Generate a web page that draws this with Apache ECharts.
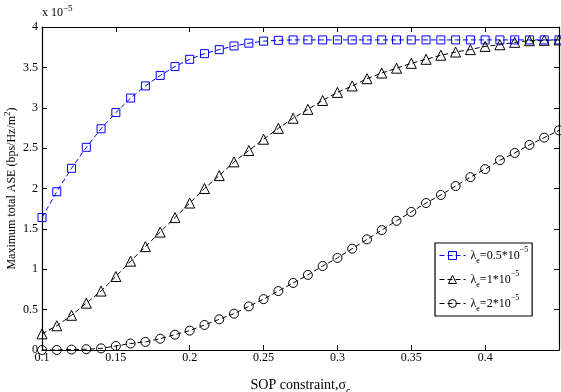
<!DOCTYPE html>
<html>
<head>
<meta charset="utf-8">
<script src="https://cdn.jsdelivr.net/npm/echarts@6/dist/echarts.min.js"></script>
<style>
  html, body { margin: 0; padding: 0; background: #fff; }
  #main { width: 561px; height: 392px; }
</style>
</head>
<body>
<div id="main"></div>
<script>
// SOP constraint values (x axis)
const sop = [0.10, 0.11, 0.12, 0.13, 0.14, 0.15, 0.16, 0.17, 0.18, 0.19,
  0.20, 0.21, 0.22, 0.23, 0.24, 0.25, 0.26, 0.27, 0.28, 0.29,
  0.30, 0.31, 0.32, 0.33, 0.34, 0.35, 0.36, 0.37, 0.38, 0.39,
  0.40, 0.41, 0.42, 0.43, 0.44, 0.45];

// ASE, in units of 1e-5
const aseLow = [1.64, 1.96, 2.25, 2.51, 2.74, 2.94, 3.12, 3.27, 3.40, 3.51,
  3.60, 3.67, 3.72, 3.765, 3.80, 3.825, 3.835, 3.84, 3.84, 3.84,
  3.84, 3.84, 3.84, 3.84, 3.84, 3.84, 3.84, 3.84, 3.84, 3.84,
  3.84, 3.84, 3.84, 3.84, 3.84, 3.84];
const aseMid = [0.20, 0.30, 0.43, 0.58, 0.73, 0.91, 1.10, 1.28, 1.46, 1.64,
  1.82, 2.00, 2.16, 2.33, 2.47, 2.61, 2.745, 2.87, 2.98, 3.09,
  3.19, 3.27, 3.36, 3.43, 3.49, 3.55, 3.60, 3.65, 3.69, 3.72,
  3.76, 3.78, 3.81, 3.83, 3.835, 3.84];
const aseHigh = [0.00, 0.00, 0.005, 0.01, 0.02, 0.05, 0.08, 0.10, 0.14, 0.19,
  0.24, 0.31, 0.38, 0.45, 0.54, 0.63, 0.73, 0.83, 0.93, 1.04,
  1.14, 1.255, 1.37, 1.485, 1.60, 1.71, 1.82, 1.92, 2.03, 2.14,
  2.24, 2.35, 2.44, 2.54, 2.63, 2.72];

const xTicks = [0.1, 0.15, 0.2, 0.25, 0.3, 0.35, 0.4];
const legendNames = ['low', 'mid', 'high'];
const legendLabels = {
  low: '{t|λ}{sub|e}{t|=0.5*10}{sup|−5}',
  mid: '{t|λ}{sub|e}{t|=1*10}{sup|−5}',
  high: '{t|λ}{sub|e}{t|=2*10}{sup|−5}'
};

const serif = '"Liberation Serif", "DejaVu Serif", serif';
const chart = echarts.init(document.getElementById('main'));

function pairs(ys) {
  return sop.map((x, i) => [x, ys[i]]);
}

function lineSeries(name, data, color, symbol, size) {
  return {
    name: name,
    type: 'line',
    data: pairs(data),
    symbol: symbol,
    symbolSize: size,
    showSymbol: true,
    clip: false,
    lineStyle: { color: color, width: 1, type: [5, 3] },
    itemStyle: { color: 'rgba(255,255,255,0)', borderColor: color, borderWidth: 1 },
    emphasis: { disabled: true },
    animation: false
  };
}

const baseAxisX = {
  type: 'value',
  min: 0.1,
  max: 0.45,
  interval: 0.05,
  axisLine: { show: true, onZero: false, lineStyle: { color: '#000', width: 1.2 } },
  axisTick: { show: true, inside: true, length: 5, lineStyle: { color: '#000' } },
  splitLine: { show: false }
};
const baseAxisY = {
  type: 'value',
  min: 0,
  max: 4,
  interval: 0.5,
  axisLine: { show: true, onZero: false, lineStyle: { color: '#000', width: 1.2 } },
  axisTick: { show: true, inside: true, length: 5, lineStyle: { color: '#000' } },
  splitLine: { show: false }
};

const option = {
  backgroundColor: '#fff',
  grid: { left: 42, right: 2, top: 27, bottom: 42, containLabel: false, outerBoundsMode: 'none' },
  xAxis: [
    Object.assign({}, baseAxisX, {
      position: 'bottom',
      axisLabel: {
        color: '#000', fontFamily: serif, fontSize: 12, margin: 2,
        formatter: v => (xTicks.some(t => Math.abs(t - v) < 1e-9) ? String(+v.toFixed(2)) : '')
      },
      name: '{t|SOP constraint,σ}{sub|c}',
      nameLocation: 'middle',
      nameGap: 24,
      nameTextStyle: {
        color: '#000', fontFamily: serif,
        rich: {
          t: { fontFamily: serif, fontSize: 14, color: '#000', lineHeight: 22 },
          sub: { fontFamily: serif, fontSize: 10, color: '#000', verticalAlign: 'bottom', lineHeight: 22 }
        }
      }
    }),
    Object.assign({}, baseAxisX, {
      position: 'top',
      axisLabel: { show: false }
    })
  ],
  yAxis: [
    Object.assign({}, baseAxisY, {
      position: 'left',
      axisLabel: {
        color: '#000', fontFamily: serif, fontSize: 12, margin: 4,
        formatter: v => String(v)
      },
      name: '{t|Maximum total ASE (bps/Hz/m}{sup|2}{t|)}',
      nameLocation: 'middle',
      nameRotate: 90,
      nameGap: 21,
      nameMoveOverlap: false,
      nameTextStyle: {
        color: '#000', fontFamily: serif,
        rich: {
          t: { fontFamily: serif, fontSize: 12, color: '#000', lineHeight: 18 },
          sup: { fontFamily: serif, fontSize: 9, color: '#000', verticalAlign: 'top', lineHeight: 18 }
        }
      }
    }),
    Object.assign({}, baseAxisY, {
      position: 'right',
      axisLabel: { show: false }
    })
  ],
  legend: {
    data: legendNames,
    orient: 'vertical',
    left: 435,
    top: 243,
    padding: [3, 4, 3, 4],
    itemGap: 5,
    itemWidth: 26,
    itemHeight: 10,
    backgroundColor: '#fff',
    borderColor: '#000',
    borderWidth: 1.2,
    borderRadius: 0,
    selectedMode: false,
    lineStyle: { width: 1 },
    itemStyle: { borderWidth: 1 },
    formatter: n => legendLabels[n],
    textStyle: {
      color: '#000', fontFamily: serif, fontSize: 12,
      rich: {
        t: { fontFamily: serif, fontSize: 12, color: '#000', lineHeight: 19 },
        sub: { fontFamily: serif, fontSize: 8, color: '#000', verticalAlign: 'bottom', lineHeight: 19 },
        sup: { fontFamily: serif, fontSize: 8, color: '#000', verticalAlign: 'top', lineHeight: 19 }
      }
    }
  },
  graphic: [{
    type: 'text',
    left: 42,
    top: 4,
    style: {
      text: '{t|x 10}{sup|−5}',
      rich: {
        t: { fontFamily: serif, fontSize: 12, fill: '#000', lineHeight: 17 },
        sup: { fontFamily: serif, fontSize: 9, fill: '#000', verticalAlign: 'top', lineHeight: 17 }
      }
    }
  }],
  series: [
    lineSeries('low', aseLow, '#0000ff', 'rect', 8),
    lineSeries('mid', aseMid, '#000000', 'triangle', 10),
    lineSeries('high', aseHigh, '#000000', 'circle', 9)
  ]
};

chart.setOption(option);
</script>
</body>
</html>
